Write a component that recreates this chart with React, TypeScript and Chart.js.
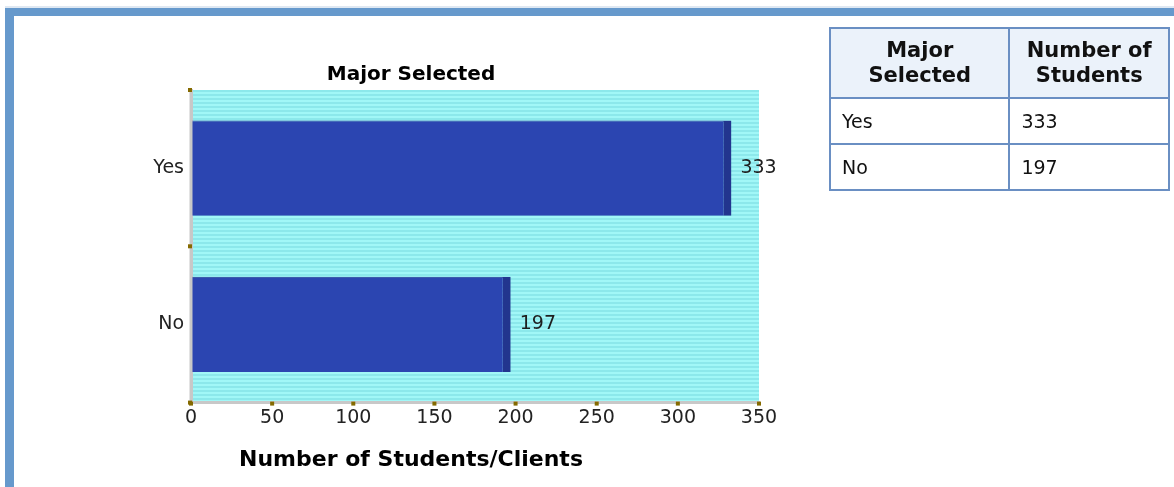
import React, { useEffect, useRef } from "react";
import { Chart, registerables } from "chart.js";

Chart.register(...registerables);

const categories: string[] = ["Yes", "No"];
const studentCounts: number[] = [333, 197];
const xTickMin = 0;
const xTickMax = 350;
const xTickStep = 50;
const chartTitle = "Major Selected";
const xAxisTitle = "Number of Students/Clients";
const tableHeaders: string[][] = [
  ["Major", "Selected"],
  ["Number of", "Students"],
];

const FONT = "'DejaVu Sans', Verdana, sans-serif";

const stripePlugin = {
  id: "stripeBg",
  beforeDraw(chart: any) {
    const { ctx, chartArea } = chart;
    if (!chartArea) return;
    const pc = document.createElement("canvas");
    pc.width = 4;
    pc.height = 4;
    const p = pc.getContext("2d")!;
    p.fillStyle = "#a1f7f7";
    p.fillRect(0, 0, 4, 2);
    p.fillStyle = "#8ce8eb";
    p.fillRect(0, 2, 4, 2);
    const pattern = ctx.createPattern(pc, "repeat");
    ctx.save();
    ctx.fillStyle = pattern;
    ctx.fillRect(chartArea.left, chartArea.top, chartArea.right - chartArea.left, chartArea.bottom - chartArea.top);
    ctx.restore();
  },
};

const valueLabelPlugin = {
  id: "valueLabels",
  afterDatasetsDraw(chart: any) {
    const { ctx } = chart;
    const meta = chart.getDatasetMeta(0);
    const data = chart.data.datasets[0].data as number[];
    ctx.save();
    ctx.font = `19px ${FONT}`;
    ctx.fillStyle = "#1e1e1e";
    ctx.textAlign = "left";
    ctx.textBaseline = "middle";
    meta.data.forEach((bar: any, i: number) => {
      ctx.fillText(String(data[i]), bar.x + 9, bar.y);
    });
    ctx.restore();
  },
};

const tickMarkPlugin = {
  id: "tickMarks",
  afterDraw(chart: any) {
    const { ctx, chartArea, scales } = chart;
    const xs = scales.x;
    ctx.save();
    // axis lines drawn over the bars
    ctx.fillStyle = "#c8c8c8";
    ctx.fillRect(chartArea.left - 1.5, chartArea.top, 3, chartArea.bottom - chartArea.top + 1.5);
    ctx.fillStyle = "#856a00";
    xs.ticks.forEach((t: any) => {
      const px = xs.getPixelForValue(t.value);
      ctx.fillRect(px - 2, chartArea.bottom - 1, 4, 4);
    });
    const n = chart.data.labels.length;
    for (let i = 0; i <= n; i++) {
      const py = chartArea.top + (i * (chartArea.bottom - chartArea.top)) / n;
      ctx.fillRect(chartArea.left - 3, py - 2, 4, 4);
    }
    ctx.restore();
  },
};

function ChartCanvas() {
  const ref = useRef<HTMLCanvasElement | null>(null);
  useEffect(() => {
    if (!ref.current) return;
    const chart = new Chart(ref.current, {
      type: "bar",
      data: {
        labels: categories,
        datasets: [
          {
            data: studentCounts,
            backgroundColor: "#2b45b1",
            borderColor: "#22358e",
            borderWidth: { top: 1, right: 8, bottom: 0, left: 0 },
            borderSkipped: false,
            barPercentage: 0.61,
            categoryPercentage: 1,
          },
        ],
      },
      options: {
        indexAxis: "y",
        responsive: false,
        animation: false,
        layout: { padding: { left: 49, right: 55, top: 0, bottom: 0 } },
        plugins: {
          legend: { display: false },
          tooltip: { enabled: false },
          title: {
            display: true,
            text: chartTitle,
            color: "#000",
            font: { family: FONT, size: 20, weight: "bold", lineHeight: 1.2 },
            padding: { top: 47, bottom: 3 },
          },
          subtitle: {
            display: true,
            position: "bottom",
            text: xAxisTitle,
            color: "#000",
            font: { family: FONT, size: 22, weight: "bold", lineHeight: 1.2 },
            padding: { top: 0, bottom: 14 },
          },
        },
        scales: {
          x: {
            type: "linear",
            min: xTickMin,
            max: xTickMax,
            ticks: {
              stepSize: xTickStep,
              color: "#222",
              font: { family: FONT, size: 19 },
              padding: 4,
            },
            grid: { display: false, drawTicks: false },
            border: { display: true, color: "#c8c8c8", width: 3 },
            afterFit(scale: any) {
              scale.height = 44;
            },
          },
          y: {
            ticks: {
              color: "#222",
              font: { family: FONT, size: 19 },
              padding: 7,
            },
            grid: { display: false, drawTicks: false },
            border: { display: true, color: "#c8c8c8", width: 3 },
            afterFit(scale: any) {
              scale.width = 128;
            },
          },
        },
      } as any,
      plugins: [stripePlugin, valueLabelPlugin, tickMarkPlugin],
    });
    return () => chart.destroy();
  }, []);
  return <canvas ref={ref} width={800} height={471} style={{ display: "block" }} />;
}

const cellBorder = "2px solid #6a8fc3";

export default function App() {
  return (
    <div
      style={{
        position: "fixed",
        left: 5,
        top: 8,
        right: 0,
        bottom: 0,
        borderTop: "8px solid #6699cc",
        borderLeft: "9px solid #6699cc",
        boxShadow: "0 -2px 0 #dfe8f2",
        background: "#fff",
        overflow: "hidden",
      }}
    >
      <ChartCanvas />
      <table
        style={{
          position: "absolute",
          left: 815,
          top: 11,
          width: 341,
          borderCollapse: "collapse",
          border: "2px solid #5b84bd",
          fontFamily: FONT,
          color: "#111",
        }}
      >
        <thead>
          <tr style={{ height: 70, background: "#ebf2fa" }}>
            {tableHeaders.map((lines, i) => (
              <th
                key={i}
                style={{
                  border: cellBorder,
                  width: i === 0 ? 182 : 157,
                  fontSize: 21,
                  lineHeight: "25px",
                  fontWeight: "bold",
                  padding: "0 2px",
                  textAlign: "center",
                  whiteSpace: "nowrap",
                }}
              >
                {lines[0]}
                <br />
                {lines[1]}
              </th>
            ))}
          </tr>
        </thead>
        <tbody>
          {categories.map((c, i) => (
            <tr key={c} style={{ height: 46 }}>
              <td style={{ border: cellBorder, fontSize: 19, padding: "0 11px" }}>{c}</td>
              <td style={{ border: cellBorder, fontSize: 19, padding: "0 11px" }}>{studentCounts[i]}</td>
            </tr>
          ))}
        </tbody>
      </table>
    </div>
  );
}
